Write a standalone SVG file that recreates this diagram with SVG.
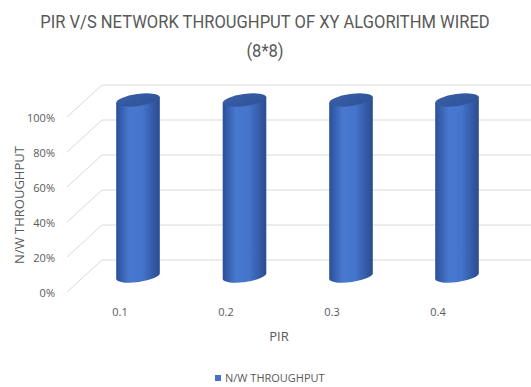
<svg xmlns="http://www.w3.org/2000/svg" width="531" height="387" viewBox="0 0 531 387">
  <defs>
    <linearGradient id="body" x1="0" y1="0" x2="1" y2="0">
      <stop offset="0" stop-color="#2c4f98"/>
      <stop offset="0.3" stop-color="#4778cf"/>
      <stop offset="0.6" stop-color="#4574cb"/>
      <stop offset="1" stop-color="#2a4b90"/>
    </linearGradient>
    <linearGradient id="cap" x1="0" y1="0" x2="1" y2="1">
      <stop offset="0" stop-color="#3a5ea8"/>
      <stop offset="1" stop-color="#2f5398"/>
    </linearGradient>
    <!-- one cylinder, centred on x=0; top cap centre y=100, base centre y=276 -->
    <g id="cyl">
      <path d="M -21.8 103.1 L -21.8 279.1 A 22 6 -8 0 0 21.8 272.9 L 21.8 96.9 Z" fill="url(#body)"/>
      <ellipse cx="0" cy="100" rx="22" ry="6" transform="rotate(-8 0 100)" fill="url(#cap)"/>
    </g>
  </defs>
  <style>
    .grid { stroke: #d9d9d9; stroke-width: 1; fill: none; }
    .tick { font-family: "Open Sans", "Liberation Sans", sans-serif; font-size: 11px; fill: #595959; }
    .title { font-family: Roboto, "Liberation Sans", sans-serif; font-size: 18px; fill: #595959; }
    .axis { font-family: "Open Sans", "Liberation Sans", sans-serif; font-size: 13px; fill: #595959; }
  </style>

  <rect width="531" height="387" fill="#ffffff"/>

  <!-- title (horizontally condensed) -->
  <text class="title" transform="translate(265 28) scale(0.92 1)" text-anchor="middle">PIR V/S NETWORK THROUGHPUT OF XY ALGORITHM WIRED</text>
  <text class="title" transform="translate(265 57) scale(0.92 1)" text-anchor="middle">(8*8)</text>

  <!-- gridlines: back wall and side floor diagonals -->
  <g id="gridlines">
    <path class="grid" d="M102 85 H531 M102 120 H531 M102 155 H531 M102 190 H531 M102 225 H531 M102 260 H531"/>
    <path class="grid" d="M67 117 L102 85 M67 152 L102 120 M67 187 L102 155 M67 222 L102 190 M67 257 L102 225 M67 292 L102 260"/>
  </g>

  <!-- value axis labels -->
  <g id="y-axis">
    <text class="tick" x="55" y="122" text-anchor="end">100%</text>
    <text class="tick" x="55" y="157" text-anchor="end">80%</text>
    <text class="tick" x="55" y="192" text-anchor="end">60%</text>
    <text class="tick" x="55" y="227" text-anchor="end">40%</text>
    <text class="tick" x="55" y="262" text-anchor="end">20%</text>
    <text class="tick" x="55" y="297" text-anchor="end">0%</text>
    <text class="axis" transform="translate(24 205) rotate(-90)" text-anchor="middle">N/W THROUGHPUT</text>
  </g>

  <!-- bars -->
  <g id="bar-0.1"><use href="#cyl" x="138"/></g>
  <g id="bar-0.2"><use href="#cyl" x="244.5"/></g>
  <g id="bar-0.3"><use href="#cyl" x="351"/></g>
  <g id="bar-0.4"><use href="#cyl" x="457"/></g>

  <!-- category axis labels -->
  <g id="x-axis">
    <text class="tick" x="120" y="316" text-anchor="middle">0.1</text>
    <text class="tick" x="226" y="316" text-anchor="middle">0.2</text>
    <text class="tick" x="332" y="316" text-anchor="middle">0.3</text>
    <text class="tick" x="438" y="316" text-anchor="middle">0.4</text>
    <text class="axis" x="279" y="341" text-anchor="middle">PIR</text>
  </g>

  <!-- legend -->
  <g id="legend">
    <rect x="215" y="375" width="6" height="6" fill="#4472c4"/>
    <text class="tick" x="225" y="382">N/W THROUGHPUT</text>
  </g>
</svg>
